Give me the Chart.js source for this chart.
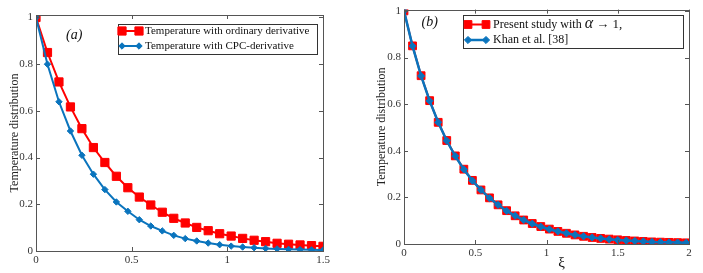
<!DOCTYPE html>
<html>
<head>
<meta charset="utf-8">
<script src="https://cdn.jsdelivr.net/npm/chart.js@4.4.1/dist/chart.umd.min.js"></script>
<style>
  body { margin: 0; background: #fff; }
  #wrap { position: relative; width: 703px; height: 273px; }
  canvas { position: absolute; top: 0; }
</style>
</head>
<body>
<div id="wrap">
  <canvas id="chartA" width="350" height="273" style="left:0"></canvas>
  <canvas id="chartB" width="353" height="273" style="left:350px"></canvas>
</div>
<script>
// panel (a): ordinary vs CPC derivative
const xA = [0, 0.06, 0.12, 0.18, 0.24, 0.30, 0.36, 0.42, 0.48, 0.54, 0.60, 0.66, 0.72,
            0.78, 0.84, 0.90, 0.96, 1.02, 1.08, 1.14, 1.20, 1.26, 1.32, 1.38, 1.44, 1.50];
const ordinaryA = [1.0, 0.85, 0.724, 0.617, 0.524, 0.443, 0.379, 0.32, 0.271, 0.231, 0.197, 0.166, 0.14,
                   0.12, 0.101, 0.087, 0.074, 0.064, 0.054, 0.046, 0.04, 0.033, 0.029, 0.026, 0.023, 0.02];
const cpcA = [1.0, 0.80, 0.639, 0.514, 0.41, 0.329, 0.263, 0.21, 0.17, 0.134, 0.107, 0.086, 0.067,
              0.053, 0.043, 0.034, 0.027, 0.021, 0.017, 0.014, 0.011, 0.009, 0.007, 0.006, 0.005, 0.004];

// panel (b): present study vs Khan et al.
const xB = [0, 0.06, 0.12, 0.18, 0.24, 0.30, 0.36, 0.42, 0.48, 0.54, 0.60, 0.66, 0.72, 0.78, 0.84, 0.90, 0.96,
            1.02, 1.08, 1.14, 1.20, 1.26, 1.32, 1.38, 1.44, 1.50, 1.56, 1.62, 1.68, 1.74, 1.80, 1.86, 1.92, 1.98];
const presentB = [1.0, 0.85, 0.722, 0.615, 0.522, 0.444, 0.378, 0.321, 0.273, 0.232, 0.198, 0.168, 0.143, 0.121,
                  0.103, 0.088, 0.075, 0.064, 0.054, 0.046, 0.039, 0.033, 0.028, 0.024, 0.021, 0.018, 0.015,
                  0.013, 0.011, 0.009, 0.008, 0.007, 0.006, 0.005];
const khanB = [1.0, 0.849, 0.721, 0.614, 0.522, 0.443, 0.377, 0.32, 0.272, 0.232, 0.197, 0.168, 0.142, 0.121,
               0.103, 0.087, 0.074, 0.063, 0.054, 0.046, 0.039, 0.033, 0.028, 0.024, 0.02, 0.017, 0.015,
               0.013, 0.011, 0.009, 0.008, 0.007, 0.006, 0.005];

const yTicks = [0, 0.2, 0.4, 0.6, 0.8, 1];
const xTicksA = [0, 0.5, 1, 1.5];
const xTicksB = [0, 0.5, 1, 1.5, 2];

const FONT = "'Liberation Serif', 'Times New Roman', serif";
const RED = '#ff0000';
const BLUE = '#0a74bd';

function pts(xs, ys) {
    return xs.map((x, i) => ({ x: x, y: ys[i] }));
}

// box, inward ticks, legend box and panel label, MATLAB style
const matlabPlugin = {
    id: 'matlab',
    afterDraw(chart, args, opts) {
        const ctx = chart.ctx;
        const a = chart.chartArea;
        const xs = chart.scales.x, ys = chart.scales.y;
        ctx.save();
        ctx.strokeStyle = '#555';
        ctx.lineWidth = 1;
        ctx.beginPath();
        xs.ticks.forEach(t => {
            const p = Math.round(xs.getPixelForValue(t.value)) + 0.5;
            ctx.moveTo(p, a.bottom); ctx.lineTo(p, a.bottom - 4);
            ctx.moveTo(p, a.top); ctx.lineTo(p, a.top + 4);
        });
        ys.ticks.forEach(t => {
            const p = Math.round(ys.getPixelForValue(t.value)) + 0.5;
            ctx.moveTo(a.left, p); ctx.lineTo(a.left + 4, p);
            ctx.moveTo(a.right, p); ctx.lineTo(a.right - 4, p);
        });
        ctx.stroke();
        ctx.strokeRect(Math.round(a.left) + 0.5, Math.round(a.top) + 0.5,
                       Math.round(a.right - a.left), Math.round(a.bottom - a.top));

        // panel label like (a)
        ctx.fillStyle = '#111';
        ctx.font = 'italic 14px ' + FONT;
        ctx.textAlign = 'center';
        ctx.textBaseline = 'middle';
        ctx.fillText(opts.label.text, xs.getPixelForValue(opts.label.x), ys.getPixelForValue(opts.label.y));

        // x title drawn by hand, it sits a bit right of center
        if (opts.xTitle) {
            ctx.font = '15px ' + FONT;
            ctx.fillText(opts.xTitle.text, (a.left + a.right) / 2 + opts.xTitle.dx, opts.xTitle.y);
        }

        // legend box
        const L = opts.legend;
        ctx.fillStyle = '#fff';
        ctx.fillRect(L.x, L.y, L.w, L.h);
        ctx.strokeStyle = '#333';
        ctx.strokeRect(L.x + 0.5, L.y + 0.5, L.w, L.h);
        chart.data.datasets.forEach((ds, i) => {
            const ry = L.rows[i];
            ctx.strokeStyle = ds.borderColor;
            ctx.lineWidth = ds.borderWidth;
            ctx.beginPath();
            ctx.moveTo(L.x1, ry); ctx.lineTo(L.x2, ry);
            ctx.stroke();
            ctx.fillStyle = ds.pointBackgroundColor;
            ctx.strokeStyle = ds.pointBorderColor;
            const po = { pointStyle: ds.pointStyle, radius: ds.pointRadius, rotation: 0, borderWidth: ds.pointBorderWidth };
            ctx.lineWidth = ds.pointBorderWidth;
            Chart.helpers.drawPoint(ctx, po, L.x1, ry);
            Chart.helpers.drawPoint(ctx, po, L.x2, ry);
            ctx.fillStyle = '#111';
            ctx.textAlign = 'left';
            ctx.textBaseline = 'middle';
            let tx = L.tx;
            L.texts[i].forEach(part => {
                ctx.font = part.font + FONT;
                ctx.fillText(part.s, tx, ry + (part.dy || 0));
                tx += ctx.measureText(part.s).width;
            });
        });
        ctx.restore();
    }
};

function makeChart(id, xs, series, xTicks, xMax, yMax, frame, extra) {
    const ctx = document.getElementById(id).getContext('2d');
    return new Chart(ctx, {
        type: 'line',
        data: {
            datasets: series.map(s => ({
                data: pts(xs, s.data),
                borderColor: s.color,
                borderWidth: s.width,
                pointStyle: s.style,
                pointRadius: s.radius,
                pointBackgroundColor: s.color,
                pointBorderColor: s.color,
                pointBorderWidth: 1,
                tension: 0,
                order: s.order
            }))
        },
        options: {
            responsive: false,
            animation: false,
            events: [],
            layout: { padding: frame.padding },
            plugins: {
                legend: { display: false },
                tooltip: { enabled: false },
                matlab: extra
            },
            scales: {
                x: {
                    type: 'linear', min: 0, max: xMax,
                    afterBuildTicks: s => { s.ticks = xTicks.map(v => ({ value: v })); },
                    afterFit: s => { s.height = frame.xh; },
                    grid: { display: false, drawTicks: false, tickLength: 0 },
                    border: { display: false },
                    ticks: { padding: 3, color: '#333', font: { family: FONT, size: 11 },
                             maxRotation: 0, callback: v => String(v) }
                },
                y: {
                    type: 'linear', min: 0, max: yMax,
                    afterBuildTicks: s => { s.ticks = yTicks.map(v => ({ value: v })); },
                    afterFit: s => { s.width = frame.yw; },
                    grid: { display: false, drawTicks: false, tickLength: 0 },
                    border: { display: false },
                    ticks: { padding: 3, color: '#333', font: { family: FONT, size: 11 },
                             callback: v => String(v) },
                    title: { display: true, text: 'Temperature distribution', color: '#222',
                             font: { family: FONT, size: 12 }, padding: { top: frame.titlePad, bottom: 0 } }
                }
            }
        },
        plugins: [matlabPlugin]
    });
}

makeChart('chartA', xA, [
    { data: ordinaryA, color: RED, width: 2, style: 'rect', radius: 5.8, order: 2 },
    { data: cpcA, color: BLUE, width: 2, style: 'rectRot', radius: 3.2, order: 1 }
], xTicksA, 1.5, 1.0107,
{ padding: { left: 0, top: 15, right: 27, bottom: 0 }, xh: 22, yw: 36, titlePad: 8 },
{
    label: { text: '(a)', x: 0.2, y: 0.925 },
    legend: {
        x: 118, y: 24, w: 199, h: 30, rows: [31, 46], x1: 122, x2: 139, tx: 145,
        texts: [
            [{ s: 'Temperature with ordinary derivative', font: '11px ' }],
            [{ s: 'Temperature with CPC-derivative', font: '11px ' }]
        ]
    }
});

makeChart('chartB', xB, [
    { data: presentB, color: RED, width: 2, style: 'rect', radius: 5.5, order: 2 },
    { data: khanB, color: BLUE, width: 2.5, style: 'rectRot', radius: 3.6, order: 1 }
], xTicksB, 2, 1.0056,
{ padding: { left: 0, top: 9, right: 14, bottom: 0 }, xh: 29, yw: 54, titlePad: 25 },
{
    label: { text: '(b)', x: 0.18, y: 0.95 },
    xTitle: { text: 'ξ', dx: 15, y: 263 },
    legend: {
        x: 113, y: 15, w: 220, h: 33, rows: [24.5, 40], x1: 118, x2: 136, tx: 143,
        texts: [
            [{ s: 'Present study with ', font: '12px ' }, { s: 'α', font: 'italic 16px ', dy: -1 },
             { s: ' \u2192 1,', font: '13px ' }],
            [{ s: 'Khan et al. [38]', font: '12px ' }]
        ]
    }
});
</script>
</body>
</html>
